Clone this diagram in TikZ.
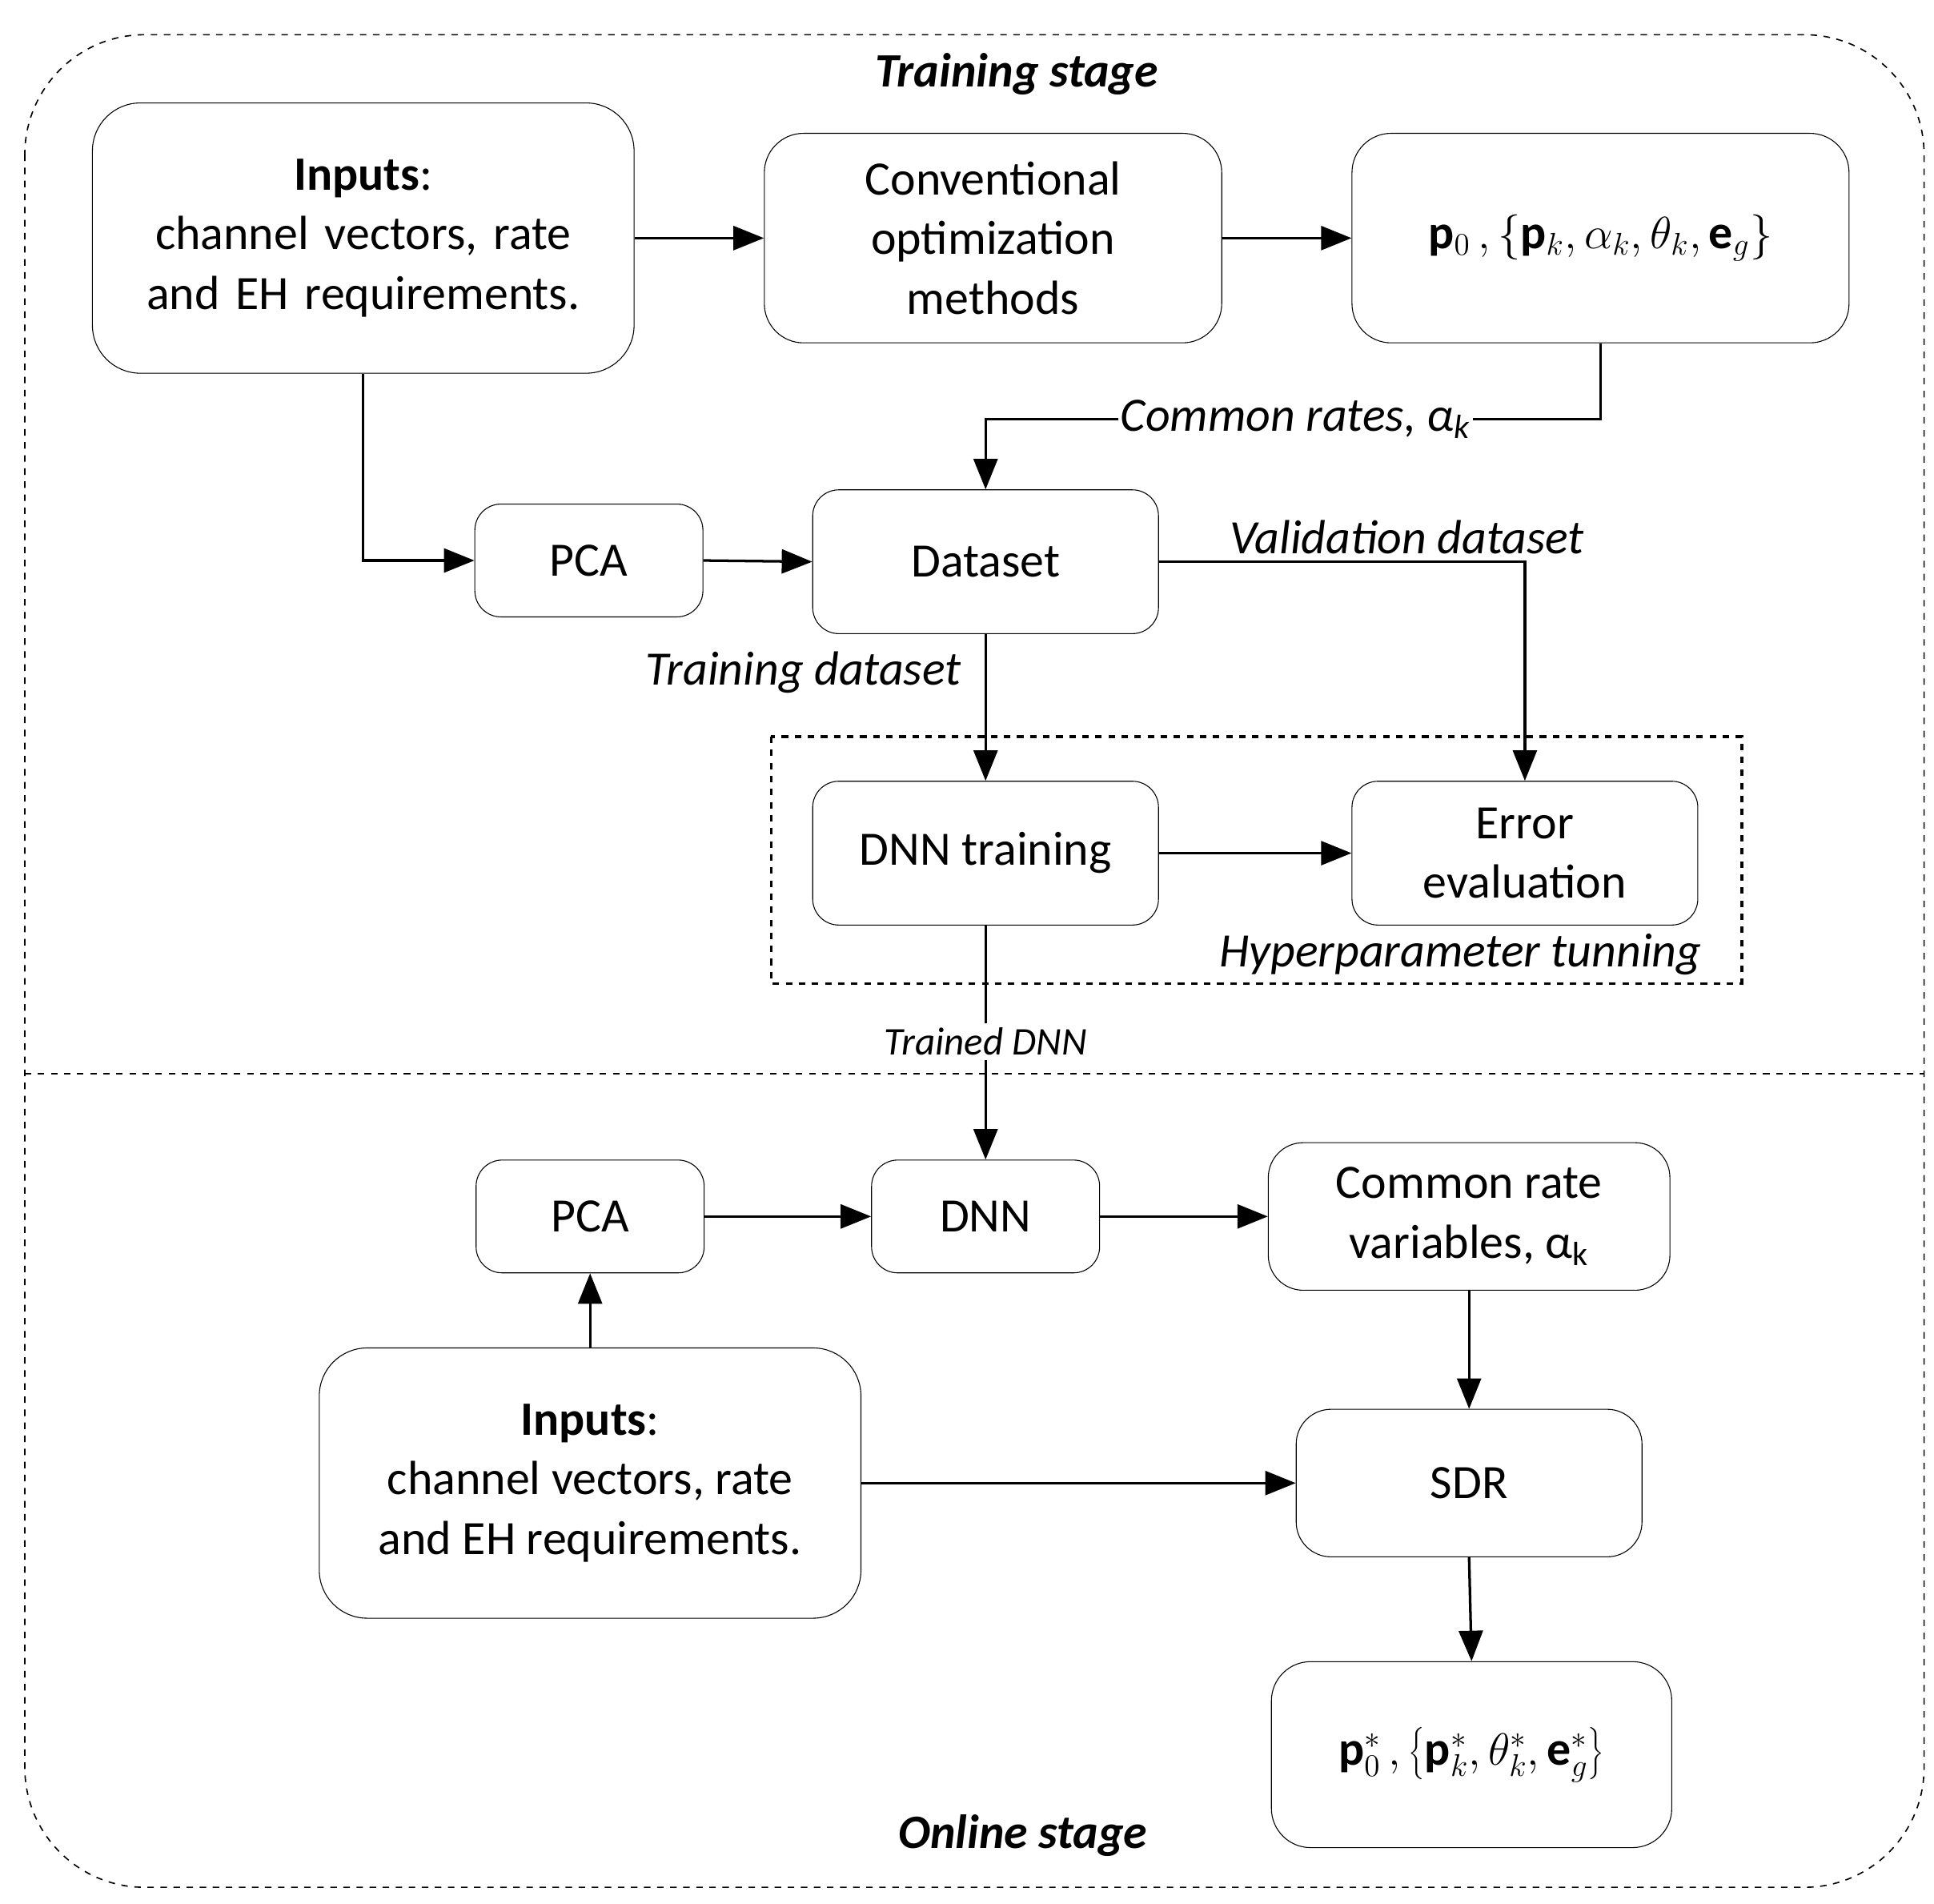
\documentclass[tikz,border=0pt]{standalone}
\usepackage{fontspec}
\setmainfont{Carlito}
\usetikzlibrary{arrows.meta}
\begin{document}
\begin{tikzpicture}[x=0.02cm,y=-0.02cm,
  every node/.style={font=\fontsize{22}{27.5}\selectfont},
  box/.style={draw,rounded corners=12pt,align=center,inner sep=0pt},
  arr/.style={-{Triangle[length=14pt,width=11pt]},line width=1.2pt},
  lbl/.style={font=\fontsize{22}{27}\selectfont\itshape}]
\useasboundingbox (0,0) rectangle (1560,1535);
\draw[dashed,rounded corners=55pt,line width=0.6pt] (20,28) rectangle (1552,1522);
\draw[dashed,line width=0.6pt] (20,866) -- (1552,866);
\node[font=\fontsize{22}{27}\selectfont\bfseries\itshape] (t1) at (820,60) {Training stage};
\node[font=\fontsize{22}{27}\selectfont\bfseries\itshape] (t2) at (825,1480) {Online stage};
\draw[dashed,line width=1.2pt] (622,594) rectangle (1405,793);
\node[box,rounded corners=22pt,minimum width=437\pgflinewidth,text width=8cm] (in1) at (293,192) [minimum width=8.74cm,minimum height=4.36cm] {\textbf{Inputs}:\\ channel vectors, rate\\ and EH requirements.};
\node[box,minimum width=7.38cm,minimum height=3.38cm,rounded corners=18pt] (conv) at (801,192) {Conventional\\ optimization\\ methods};
\node[box,minimum width=8.02cm,minimum height=3.38cm,rounded corners=18pt] (out1) at (1291,192) {$\mathbf{p}_0\,,\left\{\mathbf{p}_k,\alpha_k,\theta_k,\mathbf{e}_g\right\}$};
\node[box,minimum width=3.68cm,minimum height=1.82cm] (pca1) at (475,452) {PCA};
\node[box,minimum width=5.58cm,minimum height=2.32cm] (ds) at (795,453) {Dataset};
\node[box,minimum width=5.58cm,minimum height=2.32cm] (dnnt) at (795,688) {DNN training};
\node[box,minimum width=5.58cm,minimum height=2.32cm] (err) at (1230,688) {Error\\ evaluation};
\node[box,minimum width=3.68cm,minimum height=1.82cm] (pca2) at (476,981) {PCA};
\node[box,minimum width=3.68cm,minimum height=1.82cm] (dnn) at (795,981) {DNN};
\node[box,minimum width=6.48cm,minimum height=2.38cm,rounded corners=16pt] (crv) at (1185,981) {Common rate\\ variables, α\textsubscript{k}};
\node[box,minimum width=5.58cm,minimum height=2.38cm,rounded corners=16pt] (sdr) at (1185,1196) {SDR};
\node[box,rounded corners=22pt,minimum width=8.74cm,minimum height=4.36cm] (in2) at (476,1196) {\textbf{Inputs}:\\ channel vectors, rate\\ and EH requirements.};
\node[box,minimum width=6.46cm,minimum height=3.0cm,rounded corners=18pt] (out2) at (1187,1415) {$\mathbf{p}_0^*\,,\left\{\mathbf{p}_k^*,\theta_k^*,\mathbf{e}_g^*\right\}$};
% edges
\draw[arr] (in1.east) -- (conv.west);
\draw[arr] (conv.east) -- (out1.west);
\draw[arr] (out1.south) |- (795,338) -- (ds.north);
\node[lbl,fill=white,inner sep=1pt] (cr) at (1045,338) {Common rates, α\textsubscript{k}};
\draw[arr] (in1.south) |- (pca1.west);
\draw[arr] (pca1.east) -- (ds.west);
\draw[arr] (ds.east) -- (1230,453) -- (err.north);
\node[lbl] (vd) at (1135,433) {Validation dataset};
\draw[arr] (ds.south) -- (dnnt.north);
\node[lbl] (td) at (648,542) {Training dataset};
\draw[arr] (dnnt.east) -- (err.west);
\node[lbl] (hp) at (1178,770) {Hyperparameter tunning};
\draw[arr] (dnnt.south) -- (dnn.north);
\node[font=\fontsize{18}{22}\selectfont\itshape,fill=white,inner sep=2pt] (tdn) at (795,840) {Trained DNN};
\draw[arr] (pca2.east) -- (dnn.west);
\draw[arr] (dnn.east) -- (crv.west);
\draw[arr] (crv.south) -- (sdr.north);
\draw[arr] (in2.east) -- (sdr.west);
\draw[arr] (in2.north) -- (pca2.south);
\draw[arr] (sdr.south) -- (out2.north);
\end{tikzpicture}
\end{document}
